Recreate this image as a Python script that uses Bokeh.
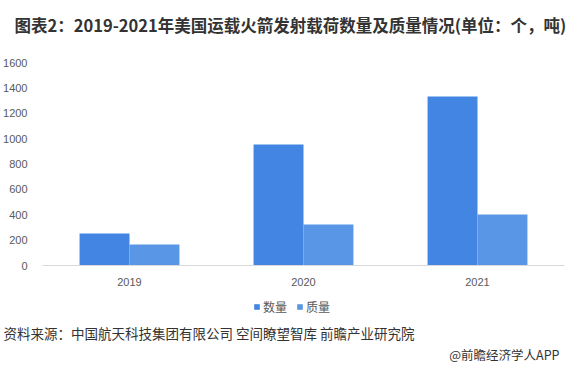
from bokeh.plotting import figure
from bokeh.layouts import column
from bokeh.models import (FactorRange, Range1d, FixedTicker, Legend, LegendItem, Title,
                          ColumnDataSource)
from bokeh.transform import dodge
from bokeh.embed import file_html
from bokeh.resources import INLINE

years = ["2019", "2020", "2021"]
quantity = [252, 953, 1333]
mass = [165, 323, 402]
y_ticks = [0, 200, 400, 600, 800, 1000, 1200, 1400, 1600]
series_names = ["数量", "质量"]
title_text = "图表2：2019-2021年美国运载火箭发射载荷数量及质量情况(单位：个，吨)"
source_text = "资料来源：中国航天科技集团有限公司 空间瞭望智库 前瞻产业研究院"
credit_text = "@前瞻经济学人APP"

CJK = "Noto Sans CJK SC"
c1 = "#4285e2"
c2 = "#5a96e6"
W = 566
BL, BR = 42, 2

src = ColumnDataSource(dict(year=years, q=quantity, m=mass))


def blank(h, top, bottom, **kw):
    f = figure(width=W, height=h, output_backend="svg", toolbar_location=None,
               x_axis_type=None, y_axis_type=None,
               min_border_left=BL, min_border_right=BR,
               min_border_top=top, min_border_bottom=bottom, **kw)
    f.grid.visible = False
    f.outline_line_color = None
    f.background_fill_color = "white"
    f.border_fill_color = "white"
    return f


# ---- header with title
head = blank(54, 36, 0, x_range=Range1d(0, 1), y_range=Range1d(0, 1))
head.add_layout(Title(text=title_text, align="left", offset=-28, standoff=0,
                      vertical_align="bottom",
                      text_font=CJK, text_font_size="16.5px", text_font_style="bold",
                      text_color="#333333"), "above")

# ---- chart
p = figure(width=W, height=238, output_backend="svg", toolbar_location=None,
           x_range=FactorRange(factors=years, range_padding=0),
           y_range=Range1d(0, 1600),
           min_border_left=BL, min_border_right=BR, min_border_top=8, min_border_bottom=27)
p.outline_line_color = None
p.background_fill_color = "white"
p.border_fill_color = "white"

p.vbar(x=dodge("year", -0.1435, range=p.x_range), top="q", width=0.287, source=src,
       fill_color=c1, line_color=None)
p.vbar(x=dodge("year", 0.1435, range=p.x_range), top="m", width=0.287, source=src,
       fill_color=c2, line_color=None)

p.xgrid.visible = False
p.ygrid.visible = False

p.yaxis.ticker = FixedTicker(ticks=y_ticks)
p.yaxis.axis_line_color = None
p.yaxis.major_tick_line_color = None
p.yaxis.minor_tick_line_color = None
p.yaxis.major_label_standoff = 9
p.yaxis.major_label_text_font = "Liberation Sans"
p.yaxis.major_label_text_font_size = "11px"
p.yaxis.major_label_text_color = "#595959"

p.xaxis.axis_line_color = "#d9d9d9"
p.xaxis.axis_line_width = 1
p.xaxis.major_tick_line_color = None
p.xaxis.minor_tick_line_color = None
p.xaxis.major_label_standoff = 6
p.xaxis.major_label_text_font = "Liberation Sans"
p.xaxis.major_label_text_font_size = "11px"
p.xaxis.major_label_text_color = "#595959"

# ---- footer: legend (swatches from zero-width copies of the bars, out of view) + source
foot = blank(71, 0, 39, x_range=FactorRange(factors=years), y_range=Range1d(-20000, -19990))
d1 = foot.vbar(x="year", top="q", width=0, source=src, fill_color=c1, line_color=None)
d2 = foot.vbar(x="year", top="m", width=0, source=src, fill_color=c2, line_color=None)
legend = Legend(items=[LegendItem(label=series_names[0], renderers=[d1]),
                       LegendItem(label=series_names[1], renderers=[d2])],
                orientation="horizontal", location=(211, 5),
                glyph_width=7, glyph_height=7, label_text_font=CJK,
                label_text_font_size="12px", label_text_color="#595959",
                label_standoff=3, spacing=9, padding=0, margin=0,
                label_height=14, border_line_color=None, background_fill_alpha=0)
foot.add_layout(legend, "center")

foot.add_layout(Title(text=source_text, align="left", offset=-39, standoff=0,
                      text_font=CJK, text_font_size="13.5px", text_font_style="normal",
                      text_color="#333333"), "below")
foot.add_layout(Title(text=credit_text, align="right", offset=5, standoff=0,
                      text_font=CJK, text_font_size="12.5px", text_font_style="normal",
                      text_color="#333333"), "below")

layout = column(head, p, foot, spacing=0)
open("out.html", "w").write(file_html(layout, INLINE))
